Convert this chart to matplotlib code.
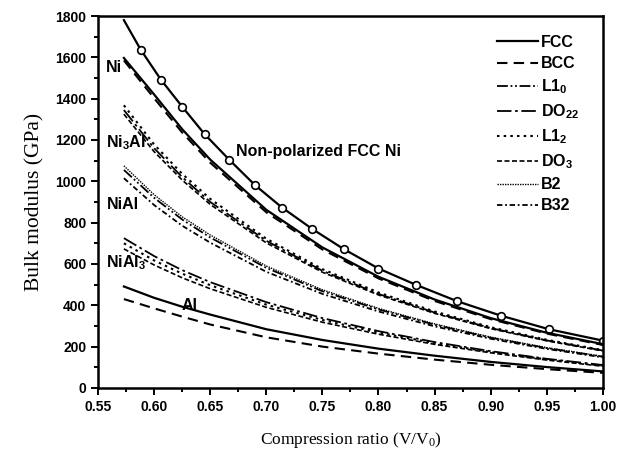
import matplotlib
matplotlib.use("Agg")
import matplotlib.pyplot as plt
from matplotlib.ticker import MultipleLocator

plt.rcParams['mathtext.default'] = 'regular'

# ---- data ----
x_nonpol = [0.573, 0.588, 0.606, 0.625, 0.645, 0.667, 0.690, 0.714, 0.741, 0.769,
            0.800, 0.833, 0.870, 0.909, 0.952, 1.000]
b_nonpol = [1780, 1637, 1492, 1361, 1228, 1104, 981, 873, 769, 672,
            578, 500, 420, 350, 284, 229]

x_grid = [0.573, 0.60, 0.625, 0.65, 0.70, 0.75, 0.80, 0.85, 0.90, 0.95, 1.00]
ni_fcc     = [1597, 1420, 1252, 1105, 862, 680, 538, 428, 338, 267, 212]
ni_bcc     = [1585, 1402, 1236, 1090, 850, 670, 530, 421, 333, 263, 208]
ni3al_l12  = [1368, 1178, 1036, 915, 722, 575, 462, 370, 294, 233, 183]
ni3al_do22 = [1345, 1160, 1020, 900, 712, 567, 455, 365, 290, 230, 181]
ni3al_do3  = [1325, 1143, 1006, 888, 702, 560, 450, 361, 287, 228, 179]
nial_b2    = [1075, 935, 828, 740, 590, 475, 385, 310, 246, 195, 153]
nial_l10   = [1055, 920, 815, 728, 581, 468, 380, 306, 243, 193, 151]
nial_b32   = [1015, 885, 785, 703, 562, 455, 370, 298, 238, 189, 148]
nial3_do22 = [725, 638, 570, 512, 415, 338, 275, 222, 178, 141, 111]
nial3_l12  = [700, 617, 553, 497, 403, 329, 268, 217, 174, 138, 108]
nial3_do3  = [673, 595, 533, 480, 390, 318, 260, 211, 170, 135, 105]
al_fcc     = [491, 436, 393, 355, 284, 232, 190, 156, 126, 101, 80]
al_bcc     = [430, 385, 345, 307, 245, 200, 166, 137, 112, 91, 73]

styles = {
    'FCC':  dict(ls='-', lw=1.6),
    'BCC':  dict(ls=(0, (5, 3)), lw=1.5),
    'L1$_0$': dict(ls=(0, (6, 1.5, 1, 1.5, 1, 1.5)), lw=1.3),
    'DO$_{22}$': dict(ls=(0, (8, 2, 1.5, 2)), lw=1.3),
    'L1$_2$': dict(ls=(0, (1.2, 2)), lw=1.5),
    'DO$_3$': dict(ls=(0, (3, 1.5)), lw=1.2),
    'B2':   dict(ls=(0, (1, 0.8)), lw=1.0),
    'B32':  dict(ls=(0, (3, 1.5, 1, 1.5)), lw=1.3),
}

curves = [
    (ni_fcc, 'FCC'), (ni_bcc, 'BCC'),
    (ni3al_l12, 'L1$_2$'), (ni3al_do22, 'DO$_{22}$'), (ni3al_do3, 'DO$_3$'),
    (nial_b2, 'B2'), (nial_l10, 'L1$_0$'), (nial_b32, 'B32'),
    (nial3_do22, 'DO$_{22}$'), (nial3_l12, 'L1$_2$'), (nial3_do3, 'DO$_3$'),
    (al_fcc, 'FCC'), (al_bcc, 'BCC'),
]

fig = plt.figure(figsize=(6.17, 4.58), dpi=100)
ax = fig.add_axes([0.159, 0.153, 0.818, 0.812])

ax.plot(x_nonpol, b_nonpol, color='black', lw=1.6, marker='o', ms=5.5,
        mfc='white', mec='black', mew=1.2, markevery=list(range(1, len(x_nonpol))))

handles = {}
for vals, name in curves:
    st = styles[name]
    ln, = ax.plot(x_grid, vals, color='black', ls=st['ls'], lw=st['lw'])
    handles.setdefault(name, ln)

order = ['FCC', 'BCC', 'L1$_0$', 'DO$_{22}$', 'L1$_2$', 'DO$_3$', 'B2', 'B32']
leg = ax.legend([handles[k] for k in order], order, loc='upper left',
                frameon=False, prop=dict(family='Liberation Sans', weight='bold', size=11.5),
                handlelength=2.6, handletextpad=0.15, labelspacing=0.39,
                borderpad=0, borderaxespad=0, bbox_to_anchor=(0.790, 0.949))

tkw = dict(fontfamily='Liberation Sans', fontweight='bold', fontsize=11.5)
ax.text(0.557, 1550, 'Ni', ha='left', va='center', **tkw)
ax.text(0.557, 1187, 'Ni$_3$Al', ha='left', va='center', **tkw)
ax.text(0.558, 886, 'NiAl', ha='left', va='center', **tkw)
ax.text(0.557, 605, 'NiAl$_3$', ha='left', va='center', **tkw)
ax.text(0.632, 400, 'Al', ha='center', va='center', **tkw)
ax.text(0.673, 1143, 'Non-polarized FCC Ni', ha='left', va='center', **tkw)

ax.set_xlim(0.55, 1.00)
ax.set_ylim(0, 1800)
ax.xaxis.set_major_locator(MultipleLocator(0.05))
ax.xaxis.set_minor_locator(MultipleLocator(0.025))
ax.yaxis.set_major_locator(MultipleLocator(200))
ax.yaxis.set_minor_locator(MultipleLocator(100))
ax.tick_params(which='both', direction='out', top=False, right=False, width=1.4)
ax.tick_params(which='major', length=5)
ax.tick_params(which='minor', length=3)
ax.xaxis.set_major_formatter(plt.FuncFormatter(lambda v, p: f'{v:.2f}'))
for lab in ax.get_xticklabels() + ax.get_yticklabels():
    lab.set_fontfamily('Liberation Sans')
    lab.set_fontweight('bold')
    lab.set_fontsize(10)
for sp in ax.spines.values():
    sp.set_linewidth(1.8)

ax.set_xlabel('Compression ratio (V/V$_0$)', fontfamily='Liberation Serif', fontsize=12.5, labelpad=12)
ax.set_ylabel('Bulk modulus (GPa)', fontfamily='Liberation Serif', fontsize=15.5, labelpad=8)

fig.savefig('out.png', dpi=100)
